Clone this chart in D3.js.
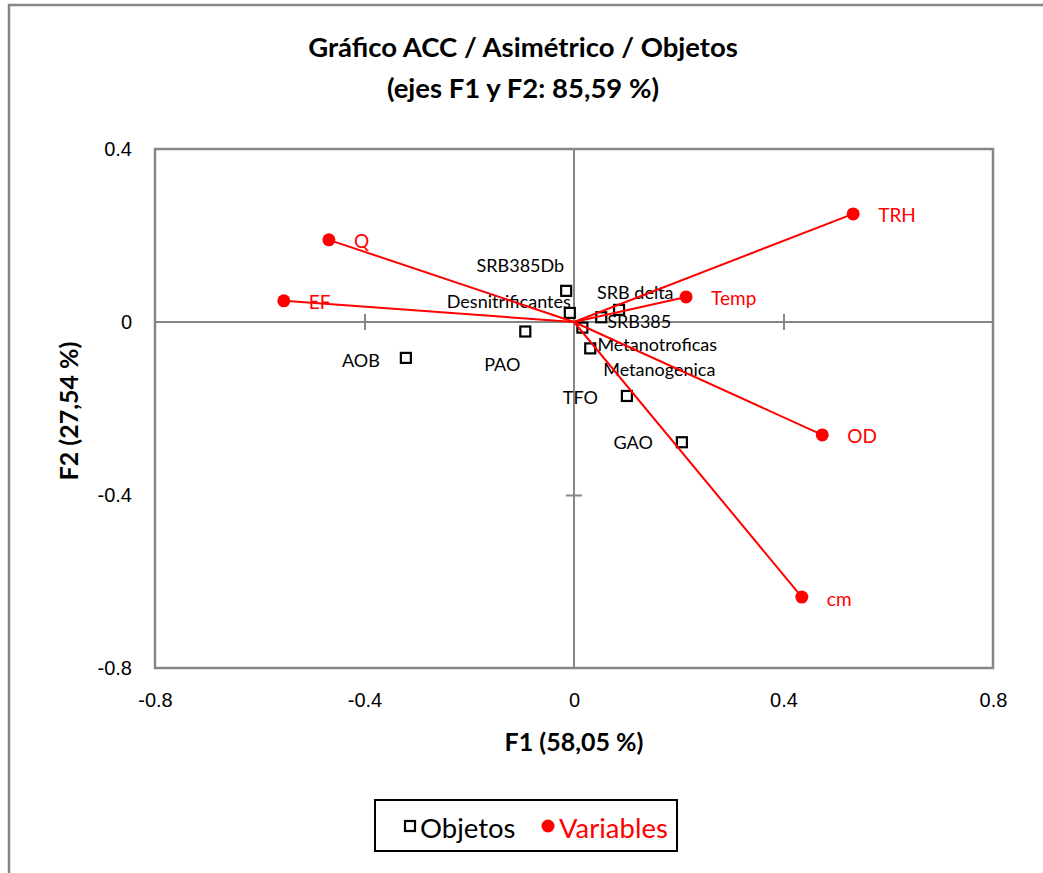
<!DOCTYPE html>
<html>
<head>
<meta charset="utf-8">
<script src="https://cdn.jsdelivr.net/npm/d3@7"></script>
<style>
  html, body { margin: 0; padding: 0; background: #fff; }
  svg { display: block; }
</style>
</head>
<body>
<svg id="chart" width="1043" height="873"></svg>
<script>
// Objects (rows) and their coordinates on F1 / F2
const objectNames = ["SRB385Db", "Desnitrificantes", "SRB delta", "SRB385", "Metanotroficas",
                     "Metanogenica", "PAO", "AOB", "TFO", "GAO"];
const objectF1 = [-0.015, -0.008, 0.086, 0.052, 0.016, 0.031, -0.093, -0.321, 0.101, 0.206];
const objectF2 = [0.072, 0.021, 0.028, 0.011, -0.013, -0.061, -0.022, -0.083, -0.171, -0.278];

// Variables (columns) and their coordinates on F1 / F2
const variableNames = ["TRH", "Temp", "OD", "cm", "Q", "EF"];
const variableF1 = [0.533, 0.214, 0.474, 0.435, -0.468, -0.554];
const variableF2 = [0.250, 0.058, -0.261, -0.636, 0.190, 0.049];

// Axis ticks
const xTicks = [-0.8, -0.4, 0, 0.4, 0.8];
const yTicks = [0.4, 0, -0.4, -0.8];
const xTickLabels = ["-0.8", "-0.4", "0", "0.4", "0.8"];
const yTickLabels = ["0.4", "0", "-0.4", "-0.8"];

// Text
const titleLines = ["Gráfico ACC / Asimétrico / Objetos", "(ejes F1 y F2: 85,59 %)"];
const xTitle = "F1 (58,05 %)";
const yTitle = "F2 (27,54 %)";
const legendLabels = ["Objetos", "Variables"];

// Label placement for object names: [dx, dy, anchor]
const objectLabelPlacement = [
  [-2, -26, "end"], [1, -12, "end"], [-22, -18, "start"], [6, 4, "start"], [15, 16, "start"],
  [13, 21, "start"], [-23, 32, "middle"], [-26, 2, "end"], [-29, 1, "end"], [-29, 0, "end"]
];

const RED = "#ff0000";
const GREY = "#868686";
const FONT = "Lato, 'Open Sans', sans-serif";

const svg = d3.select("#chart");

// Outer chart border
svg.append("rect")
  .attr("x", 9).attr("y", 5).attr("width", 1060).attr("height", 900)
  .attr("fill", "#fff").attr("stroke", GREY).attr("stroke-width", 2.5);

const plot = { left: 155, right: 993, top: 149, bottom: 668 };
const x = d3.scaleLinear().domain([-0.8, 0.8]).range([plot.left, plot.right]);
const y = d3.scaleLinear().domain([-0.8, 0.4]).range([plot.bottom, plot.top]);

// Title
const title = svg.append("text")
  .attr("x", 523).attr("text-anchor", "middle")
  .attr("font-family", FONT).attr("font-weight", "bold").attr("font-size", 27.5)
  .attr("fill", "#000");
title.selectAll("tspan").data(titleLines).join("tspan")
  .attr("x", 523).attr("y", (d, i) => 57 + i * 41).text(d => d);

// Plot frame
svg.append("rect")
  .attr("x", plot.left).attr("y", plot.top)
  .attr("width", plot.right - plot.left).attr("height", plot.bottom - plot.top)
  .attr("fill", "none").attr("stroke", GREY).attr("stroke-width", 2.5);

// Zero lines
svg.append("line")
  .attr("x1", plot.left).attr("x2", plot.right).attr("y1", y(0)).attr("y2", y(0))
  .attr("stroke", GREY).attr("stroke-width", 2);
svg.append("line")
  .attr("y1", plot.top).attr("y2", plot.bottom).attr("x1", x(0)).attr("x2", x(0))
  .attr("stroke", GREY).attr("stroke-width", 2);

// Cross ticks on the zero lines
const crossX = d3.axisBottom(x).tickValues([-0.4, 0.4]).tickSize(16).tickFormat("");
svg.append("g").attr("transform", `translate(0,${y(0) - 8})`).call(crossX)
  .call(g => g.select(".domain").remove())
  .call(g => g.selectAll(".tick line").attr("stroke", GREY).attr("stroke-width", 2));
const crossY = d3.axisLeft(y).tickValues([-0.4]).tickSize(16).tickFormat("");
svg.append("g").attr("transform", `translate(${x(0) + 8},0)`).call(crossY)
  .call(g => g.select(".domain").remove())
  .call(g => g.selectAll(".tick line").attr("stroke", GREY).attr("stroke-width", 2));

// Tick labels
const TICK_FONT = "'Liberation Sans', Arial, sans-serif";
const xAxis = d3.axisBottom(x).tickValues(xTicks).tickSize(0).tickPadding(0)
  .tickFormat((d, i) => xTickLabels[i]);
svg.append("g").attr("transform", `translate(0,${plot.bottom + 25})`).call(xAxis)
  .call(g => g.select(".domain").remove())
  .call(g => g.selectAll("text").attr("font-family", TICK_FONT)
    .attr("font-size", 20).attr("fill", "#000"));
const yAxis = d3.axisLeft(y).tickValues(yTicks).tickSize(0).tickPadding(0)
  .tickFormat((d, i) => yTickLabels[i]);
svg.append("g").attr("transform", `translate(${plot.left - 23},0)`).call(yAxis)
  .call(g => g.select(".domain").remove())
  .call(g => g.selectAll("text").attr("font-family", TICK_FONT)
    .attr("font-size", 20).attr("fill", "#000"));

// Axis titles
svg.append("text").attr("x", 574).attr("y", 751).attr("text-anchor", "middle")
  .attr("font-family", FONT).attr("font-weight", "bold").attr("font-size", 25)
  .text(xTitle);
svg.append("text").attr("transform", "translate(78,411) rotate(-90)").attr("text-anchor", "middle")
  .attr("font-family", FONT).attr("font-weight", "bold").attr("font-size", 25)
  .text(yTitle);

// Object markers
const objects = objectNames.map((n, i) => ({ name: n, f1: objectF1[i], f2: objectF2[i], place: objectLabelPlacement[i] }));
const variables = variableNames.map((n, i) => ({ name: n, f1: variableF1[i], f2: variableF2[i] }));

const SQ = 10;
svg.append("g").selectAll("rect").data(objects).join("rect")
  .attr("x", d => x(d.f1) - SQ / 2).attr("y", d => y(d.f2) - SQ / 2)
  .attr("width", SQ).attr("height", SQ)
  .attr("fill", "#fff").attr("stroke", "#000").attr("stroke-width", 2.2);

svg.append("g").selectAll("text").data(objects).join("text")
  .attr("x", d => x(d.f1) + d.place[0]).attr("y", d => y(d.f2) + d.place[1])
  .attr("text-anchor", d => d.place[2]).attr("dominant-baseline", "central")
  .attr("font-family", FONT).attr("font-size", 18).attr("fill", "#000")
  .text(d => d.name);

// Variable vectors from the origin
svg.append("g").selectAll("line").data(variables).join("line")
  .attr("x1", x(0)).attr("y1", y(0))
  .attr("x2", d => x(d.f1)).attr("y2", d => y(d.f2))
  .attr("stroke", RED).attr("stroke-width", 2);

svg.append("g").selectAll("circle").data(variables).join("circle")
  .attr("cx", d => x(d.f1)).attr("cy", d => y(d.f2)).attr("r", 6.5)
  .attr("fill", RED);

svg.append("g").selectAll("text").data(variables).join("text")
  .attr("x", d => x(d.f1) + 25).attr("y", d => y(d.f2) + 1)
  .attr("dominant-baseline", "central")
  .attr("font-family", FONT).attr("font-size", 19).attr("fill", RED)
  .text(d => d.name);

// Legend
const legend = svg.append("g");
legend.append("rect").attr("x", 375).attr("y", 800).attr("width", 302).attr("height", 51)
  .attr("fill", "#fff").attr("stroke", "#000").attr("stroke-width", 2);
legend.append("rect").attr("x", 405).attr("y", 821).attr("width", SQ).attr("height", SQ)
  .attr("fill", "#fff").attr("stroke", "#000").attr("stroke-width", 2.2);
legend.append("text").attr("x", 420).attr("y", 827).attr("dominant-baseline", "central")
  .attr("font-family", FONT).attr("font-size", 27.5).attr("fill", "#000").text(legendLabels[0]);
legend.append("circle").attr("cx", 548).attr("cy", 826).attr("r", 6.5).attr("fill", RED);
legend.append("text").attr("x", 559).attr("y", 827).attr("dominant-baseline", "central")
  .attr("font-family", FONT).attr("font-size", 27.5).attr("fill", RED).text(legendLabels[1]);
</script>
</body>
</html>
